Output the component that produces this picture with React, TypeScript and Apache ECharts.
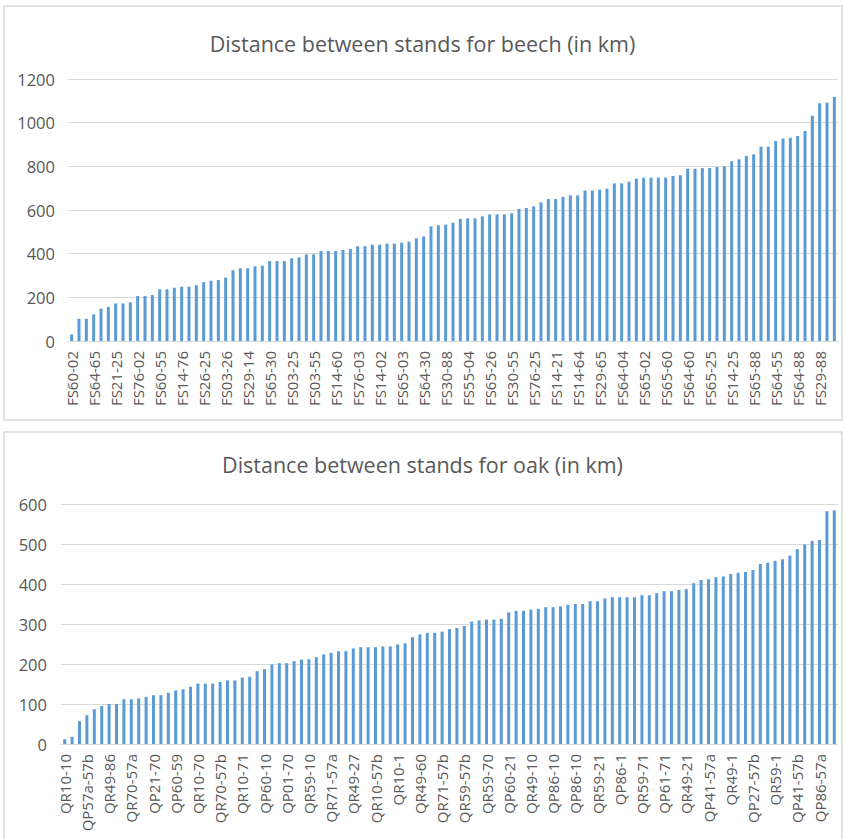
import React, { useEffect, useRef } from "react";
import * as echarts from "echarts";

const beechValues = [
  30, 102, 102, 122, 148, 156, 172, 172, 177, 206,
  206, 211, 237, 237, 244, 249, 249, 256, 270, 276,
  279, 290, 324, 333, 333, 342, 345, 366, 366, 366,
  379, 383, 397, 397, 412, 412, 412, 417, 421, 434,
  434, 441, 441, 446, 446, 450, 455, 470, 479, 525,
  530, 533, 542, 559, 562, 562, 571, 580, 580, 580,
  585, 605, 609, 617, 635, 650, 650, 660, 667, 667,
  689, 689, 693, 698, 722, 722, 730, 744, 748, 748,
  748, 748, 756, 759, 789, 789, 792, 792, 797, 800,
  823, 832, 847, 855, 890, 890, 916, 927, 931, 939,
  962, 1032, 1089, 1092, 1118,
];

const oakValues = [
  12, 18, 57, 72, 87, 95, 100, 100, 112, 112,
  114, 118, 122, 122, 128, 134, 137, 143, 151, 151,
  151, 155, 159, 159, 166, 168, 182, 187, 199, 202,
  202, 207, 211, 212, 217, 224, 228, 232, 232, 239,
  242, 242, 242, 244, 244, 249, 252, 267, 274, 278,
  278, 281, 287, 290, 295, 306, 309, 311, 311, 313,
  329, 333, 333, 336, 338, 342, 342, 344, 348, 350,
  350, 357, 357, 364, 367, 367, 367, 367, 372, 372,
  377, 382, 382, 385, 387, 402, 410, 412, 417, 419,
  425, 428, 430, 435, 450, 453, 458, 462, 471, 487,
  499, 508, 510, 582, 584,
];

// Visible tick labels (every third stand pair)
const beechTickLabels = [
  "FS60-02", "FS64-65", "FS21-25", "FS76-02", "FS60-55", "FS14-76", "FS26-25",
  "FS03-26", "FS29-14", "FS65-30", "FS03-25", "FS03-55", "FS14-60", "FS76-03",
  "FS14-02", "FS65-03", "FS64-30", "FS30-88", "FS55-04", "FS65-26", "FS30-55",
  "FS76-25", "FS14-21", "FS14-64", "FS29-65", "FS64-04", "FS65-02", "FS65-60",
  "FS64-60", "FS65-25", "FS14-25", "FS65-88", "FS64-55", "FS64-88", "FS29-88",
];

const oakTickLabels = [
  "QR10-10", "QP57a-57b", "QR49-86", "QR70-57a", "QP21-70", "QP60-59", "QR10-70",
  "QR70-57b", "QR10-71", "QP60-10", "QP01-70", "QR59-10", "QR71-57a", "QR49-27",
  "QR10-57b", "QR10-1", "QR49-60", "QR71-57b", "QR59-57b", "QR59-70", "QP60-21",
  "QR49-10", "QP86-10", "QP86-10", "QR59-21", "QP86-1", "QR59-71", "QP61-71",
  "QR49-21", "QP41-57a", "QR49-1", "QP27-57b", "QR59-1", "QP41-57b", "QP86-57a",
];

const beechTitle = "Distance between stands for beech (in km)";
const oakTitle = "Distance between stands for oak (in km)";

const beechCategories = beechValues.map((_, i) => String(i + 1));
const oakCategories = oakValues.map((_, i) => String(i + 1));

const FONT = "'Open Sans', 'Noto Sans', sans-serif";
const TEXT = "#595959";
const GRID = "#d9d9d9";
const BAR = "#5b9bd5";

export default function App() {
  const ref = useRef<HTMLDivElement>(null);

  useEffect(() => {
    if (!ref.current) return;
    const chart = echarts.init(ref.current, undefined, { renderer: "svg" });

    const xAxisCommon = (labels: string[]) => ({
      type: "category" as const,
      axisTick: { show: false },
      axisLine: { lineStyle: { color: GRID, width: 1 } },
      axisLabel: {
        interval: 2,
        rotate: 90,
        margin: 10,
        color: TEXT,
        fontSize: 15,
        fontFamily: FONT,
        formatter: (_v: string, idx: number) => labels[Math.floor(idx / 3)] ?? "",
      },
    });

    const yAxisCommon = (max: number, interval: number, margin: number) => ({
      type: "value" as const,
      min: 0,
      max,
      interval,
      axisLine: { show: false },
      axisTick: { show: false },
      splitLine: { lineStyle: { color: GRID, width: 1 } },
      axisLabel: {
        color: TEXT,
        fontSize: 16.5,
        fontFamily: FONT,
        margin,
        formatter: (v: number) => String(v),
      },
    });

    chart.setOption({
      animation: false,
      backgroundColor: "#ffffff",
      graphic: [
        {
          type: "rect",
          shape: { x: 4, y: 6, width: 838, height: 414 },
          style: { fill: "#ffffff", stroke: "#d9d9d9", lineWidth: 1.5 },
          z: -10,
        },
        {
          type: "rect",
          shape: { x: 4, y: 432, width: 838, height: 420 },
          style: { fill: "#ffffff", stroke: "#d9d9d9", lineWidth: 1.5 },
          z: -10,
        },
      ],
      title: [
        {
          text: beechTitle,
          left: "center",
          top: 27,
          textStyle: { color: TEXT, fontSize: 21.5, fontWeight: "normal", fontFamily: FONT },
        },
        {
          text: oakTitle,
          left: "center",
          top: 448,
          textStyle: { color: TEXT, fontSize: 21.5, fontWeight: "normal", fontFamily: FONT },
        },
      ],
      grid: [
        { left: 68, top: 79, width: 770, height: 262, containLabel: false },
        { left: 61, top: 504, width: 777, height: 240, containLabel: false },
      ],
      xAxis: [
        { ...xAxisCommon(beechTickLabels), gridIndex: 0, data: beechCategories },
        { ...xAxisCommon(oakTickLabels), gridIndex: 1, data: oakCategories },
      ],
      yAxis: [
        { ...yAxisCommon(1200, 200, 13), gridIndex: 0 },
        { ...yAxisCommon(600, 100, 14), gridIndex: 1 },
      ],
      series: [
        {
          type: "bar",
          xAxisIndex: 0,
          yAxisIndex: 0,
          data: beechValues,
          barWidth: 3,
          itemStyle: { color: BAR },
        },
        {
          type: "bar",
          xAxisIndex: 1,
          yAxisIndex: 1,
          data: oakValues,
          barWidth: 3,
          itemStyle: { color: BAR },
        },
      ],
    });

    return () => chart.dispose();
  }, []);

  return (
    <div
      ref={ref}
      style={{ position: "absolute", left: 0, top: 0, width: 845, height: 839 }}
    />
  );
}
